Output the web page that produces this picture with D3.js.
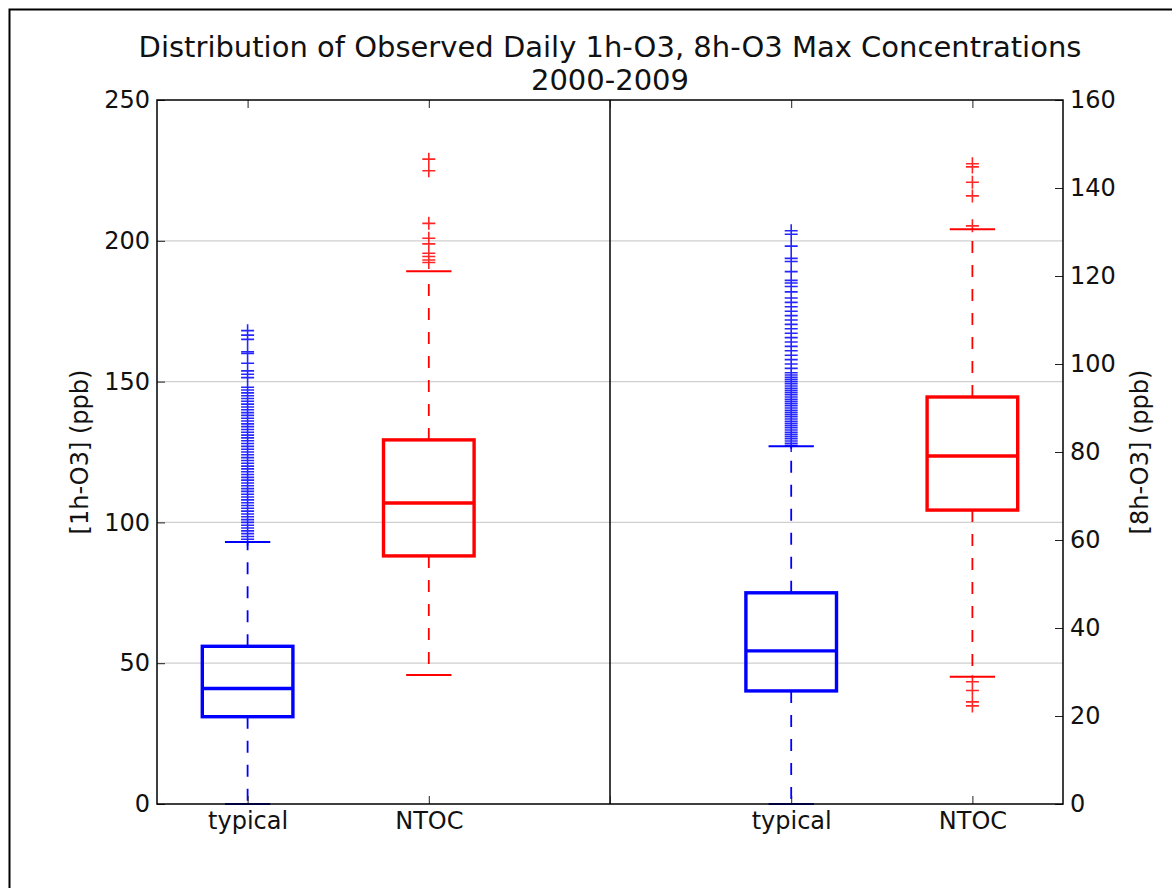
<!DOCTYPE html>
<html>
<head>
<meta charset="utf-8">
<script src="https://cdn.jsdelivr.net/npm/d3@7"></script>
<style>
  html, body { margin: 0; padding: 0; background: #fff; }
  svg { display: block; font-family: "DejaVu Sans", sans-serif; }
</style>
</head>
<body>
<div id="chart"></div>
<script>
// ---------------- DATA ----------------
const titleLines = ["Distribution of Observed Daily 1h-O3, 8h-O3 Max Concentrations", "2000-2009"];
const xTickLabels = ["typical", "NTOC", "", "typical", "NTOC"];
const xTickPositions = [1, 2, 3, 4, 5];
const leftTicks = [0, 50, 100, 150, 200, 250];
const rightTicks = [0, 20, 40, 60, 80, 100, 120, 140, 160];
const leftLabel = "[1h-O3] (ppb)";
const rightLabel = "[8h-O3] (ppb)";

// 1h-O3 boxes (left axis) : typical, NTOC
const pos1h = [1, 2];
const lo1h  = [0, 45.8];
const q1_1h = [31, 88.1];
const med1h = [41, 106.9];
const q3_1h = [56, 129.3];
const hi1h  = [93, 189.2];
const fliers1hTypical = [94,95,96,97,98,99,100,101,102,103,104,105,106,107,108,109,110,111,112,113,114,115,116,117,118,119,120,121,122,123,124,125,126,127,128,129,130,131,132,133,134,135,136,137,138,139,140,141,142,143,144,145,146,147,148,151.4,152.6,153.8,156.5,160,160.6,165,166.5,168.1];
const fliers1hNtoc = [192.3,193.2,194.4,195.6,198.9,200.9,206.2,224.9,229];

// 8h-O3 boxes (right axis) : typical, NTOC
const pos8h = [4, 5];
const lo8h  = [0, 28.9];
const q1_8h = [25.7, 66.8];
const med8h = [34.8, 79.1];
const q3_8h = [48, 92.5];
const hi8h  = [81.3, 130.6];
const fliers8hTypical = [81.5,82,82.5,83,83.5,84,84.5,85,85.5,86,86.5,87,87.5,88,88.5,89,89.5,90,90.5,91,91.5,92,92.5,93,93.5,94,94.5,95,95.5,96,96.5,97,97.5,98,99,100,101,102,103,104,105,106,107,108,109,110,111,112,113,114,115,116.4,117.6,118.4,119,121,123.3,124,126.8,129.5,130.3];
const fliers8hNtoc = [22.3,23.2,25.8,27.8,131.4,138.2,141.3,144.8,145.5];

// ---------------- LAYOUT ----------------
const W = 1172, H = 888;
const L = 157, R = 1063, T = 100, B = 804;
const colors = ["#0000ff", "#ff0000"];
const boxHalf = 0.25, capHalf = 0.125, flierHalf = 6.5;

const svg = d3.select("#chart").append("svg").attr("width", W).attr("height", H);
svg.append("rect").attr("width", W).attr("height", H).attr("fill", "#fff");

// screenshot frame
svg.append("path").attr("d", `M9.5,${H} V9.5 H${W}`).attr("fill", "none")
  .attr("stroke", "#000").attr("stroke-width", 2);

const x = d3.scaleLinear().domain([0.5, 5.5]).range([L, R]);
const yL = d3.scaleLinear().domain([0, 250]).range([B, T]);
const yR = d3.scaleLinear().domain([0, 160]).range([B, T]);

// gridlines (left axis ticks)
svg.append("g").selectAll("line").data(leftTicks.filter(d => d > 0 && d < 250)).join("line")
  .attr("x1", L).attr("x2", R).attr("y1", d => yL(d)).attr("y2", d => yL(d))
  .attr("stroke", "#cfcfcf").attr("stroke-width", 1.2);

function drawBoxes(pos, lo, q1, med, q3, hi, fliers, y) {
  const g = svg.append("g");
  pos.forEach((p, i) => {
    const c = colors[i];
    const cx = x(p);
    const xl = x(p - boxHalf), xr = x(p + boxHalf);
    g.append("line").attr("x1", cx).attr("x2", cx).attr("y1", y(q3[i])).attr("y2", y(hi[i]))
      .attr("stroke", c).attr("stroke-width", 1.8).attr("stroke-dasharray", "12,12");
    g.append("line").attr("x1", cx).attr("x2", cx).attr("y1", y(q1[i])).attr("y2", y(lo[i]))
      .attr("stroke", c).attr("stroke-width", 1.8).attr("stroke-dasharray", "12,12");
    [lo[i], hi[i]].forEach(v => {
      g.append("line").attr("x1", x(p - capHalf)).attr("x2", x(p + capHalf))
        .attr("y1", y(v)).attr("y2", y(v)).attr("stroke", c).attr("stroke-width", 2);
    });
    g.append("rect").attr("x", xl).attr("y", y(q3[i])).attr("width", xr - xl)
      .attr("height", y(q1[i]) - y(q3[i])).attr("fill", "none")
      .attr("stroke", c).attr("stroke-width", 3.4);
    g.append("line").attr("x1", xl).attr("x2", xr).attr("y1", y(med[i])).attr("y2", y(med[i]))
      .attr("stroke", c).attr("stroke-width", 3.4);
    const fp = d3.path();
    fliers[i].forEach(v => {
      const yy = y(v);
      fp.moveTo(cx - flierHalf, yy); fp.lineTo(cx + flierHalf, yy);
      fp.moveTo(cx, yy - flierHalf); fp.lineTo(cx, yy + flierHalf);
    });
    g.append("path").attr("d", fp.toString()).attr("fill", "none")
      .attr("stroke", c).attr("stroke-width", 1.6).attr("stroke-opacity", 0.85);
  });
}

drawBoxes(pos1h, lo1h, q1_1h, med1h, q3_1h, hi1h, [fliers1hTypical, fliers1hNtoc], yL);
drawBoxes(pos8h, lo8h, q1_8h, med8h, q3_8h, hi8h, [fliers8hTypical, fliers8hNtoc], yR);

// divider
svg.append("line").attr("x1", x(3)).attr("x2", x(3)).attr("y1", T).attr("y2", B)
  .attr("stroke", "#000").attr("stroke-width", 1.5);

// axes
const tickFont = 24;
const gl = svg.append("g").attr("transform", `translate(${L},0)`)
  .call(d3.axisLeft(yL).tickValues(leftTicks).tickSize(-8).tickSizeOuter(0).tickPadding(7));
const gr = svg.append("g").attr("transform", `translate(${R},0)`)
  .call(d3.axisRight(yR).tickValues(rightTicks).tickSize(-8).tickSizeOuter(0).tickPadding(7));
const gb = svg.append("g").attr("transform", `translate(0,${B})`)
  .call(d3.axisBottom(x).tickValues(xTickPositions).tickFormat((d, i) => xTickLabels[i])
    .tickSize(-8).tickSizeOuter(0).tickPadding(8));
const gt = svg.append("g").attr("transform", `translate(0,${T})`)
  .call(d3.axisTop(x).tickValues(xTickPositions).tickFormat(() => "")
    .tickSize(-8).tickSizeOuter(0));
[gl, gr, gb, gt].forEach(g => {
  g.select(".domain").remove();
  g.selectAll(".tick line").attr("stroke", "#222").attr("stroke-width", 1);
  g.selectAll(".tick text").attr("font-size", tickFont).attr("fill", "#111")
    .attr("font-family", "DejaVu Sans, sans-serif");
});

// spines
svg.append("rect").attr("x", L).attr("y", T).attr("width", R - L).attr("height", B - T)
  .attr("fill", "none").attr("stroke", "#000").attr("stroke-width", 1.5);

// title
svg.append("text").attr("x", (L + R) / 2).attr("y", 57).attr("text-anchor", "middle")
  .attr("font-size", 29).attr("fill", "#111").text(titleLines[0]);
svg.append("text").attr("x", (L + R) / 2).attr("y", 90).attr("text-anchor", "middle")
  .attr("font-size", 29).attr("fill", "#111").text(titleLines[1]);

// axis labels
svg.append("text").attr("transform", `translate(88,${(T + B) / 2}) rotate(-90)`)
  .attr("text-anchor", "middle").attr("font-size", 24).attr("fill", "#111").text(leftLabel);
svg.append("text").attr("transform", `translate(1148,${(T + B) / 2}) rotate(-90)`)
  .attr("text-anchor", "middle").attr("font-size", 24).attr("fill", "#111").text(rightLabel);
</script>
</body>
</html>
